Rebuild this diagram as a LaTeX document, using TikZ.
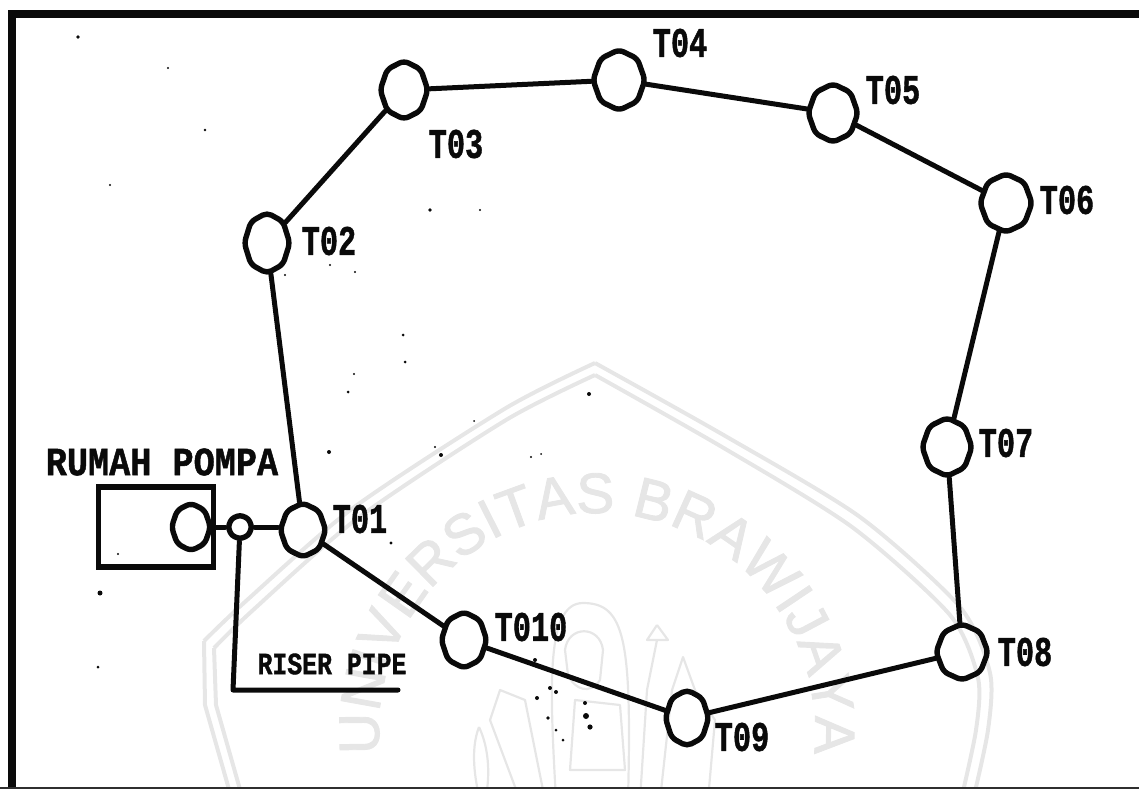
\documentclass[tikz,border=0pt]{standalone}
\usepackage{fontspec}
\setmainfont{Liberation Mono}[BoldFeatures={FakeBold=1.3}]
\newfontfamily\wmfont{Liberation Sans}[FakeBold=1.6]
\usetikzlibrary{shapes.geometric,decorations.text}
\definecolor{wm}{HTML}{E6E6E6}
\definecolor{ink}{HTML}{0A0A0A}
\tikzset{
  oct/.style 2 args={regular polygon,regular polygon sides=8,shape border rotate=22.5,
    inner sep=0pt,minimum size=#2*2.164pt,transform shape,xscale=#1/#2,
    draw=ink,line width=5.4pt,rounded corners=5pt,fill=none},
  pipe/.style={draw=ink,line width=5pt,line cap=round,line join=round},
  lab/.style={font=\bfseries\fontsize{42}{42}\selectfont,text=ink,inner sep=0pt,transform shape,xscale=0.72},
  labB/.style={font=\bfseries\fontsize{40}{40}\selectfont,text=ink,inner sep=0pt,transform shape,xscale=0.88},
  labC/.style={font=\bfseries\fontsize{31}{31}\selectfont,text=ink,inner sep=0pt,transform shape,xscale=0.80},
  wmline/.style={draw=wm,line width=2.2pt,line join=round},
  wmedge/.style={draw=wm,line width=4pt,line join=round},
  speck/.style={fill=ink,draw=none}
}
\begin{document}
\begin{tikzpicture}[x=1pt,y=-1pt]
\useasboundingbox (0,0) rectangle (1139,789);
% watermark
\begin{scope}
\clip (0,0) rectangle (1139,787);
\draw[wmedge] plot[smooth,tension=0.45] coordinates {(595,363) (727,437) (860,517) (960,607) (990,673) (988,730) (973,800)};
\draw[wmedge] plot[smooth,tension=0.45] coordinates {(595,375) (722,447) (852,527) (950,615) (978,678) (976,730) (961,800)};
\draw[wmedge] plot[smooth,tension=0.45] coordinates {(595,363) (506,408) (353,508) (246,601) (204,641)};
\draw[wmedge] plot[smooth,tension=0.45] coordinates {(595,375) (506,420) (358,518) (252,611) (214,648)};
\draw[wmedge] (204,641) -- (205,705) -- (232,800);
\draw[wmedge] (214,648) -- (216,705) -- (243,800);
% emblem
\draw[wmline] (556,800) .. controls (550,690) and (545,603) .. (583,603) .. controls (625,603) and (632,640) .. (628,800);
\draw[wmline] (565,650) .. controls (568,625) and (600,625) .. (603,650) -- (600,680) .. controls (590,695) and (575,690) .. (568,675) -- cycle;
\draw[wmline] (545,800) -- (525,700) -- (500,690) -- (490,720) -- (520,800);
\draw[wmline] (479,727) .. controls (470,750) and (475,780) .. (480,800) (479,727) .. controls (490,750) and (490,780) .. (485,800);
\draw[wmline] (657,625) -- (647,640) -- (668,640) -- (657,625) (657,640) -- (647,690) -- (640,800);
\draw[wmline] (660,800) -- (672,690) -- (683,657) -- (695,690) -- (715,720) -- (708,800);
\draw[wmline] (575,700) -- (620,705) -- (625,770) -- (570,770) -- cycle;
\begin{scope}[shift={(597,731)},y=1pt]
\path[decorate,decoration={text along path,text align={fit to path},
   text={|\wmfont\fontsize{57}{57}\selectfont\color{wm}|UNIVERSITAS BRAWIJAYA}}]
   (186:218) arc[start angle=186,end angle=-6,radius=218];
\end{scope}
\end{scope}
% frame
\fill[ink] (8,10) rectangle (1139,18);
\fill[ink] (8,10) rectangle (16,789);
\fill[ink!85] (0,787) rectangle (1139,789);
% specks
\foreach \x/\y/\r in {78/37/1.8,168/68/1.2,205/130/1.3,110/185/1.2,430/210/1.8,480/210/1.2,285/275/1.2,330/265/1.2,355/272/1.2,403/335/1.5,405/362/1.5,354/374/1.2,348/392/1.5,329/452/2,435/447/1.2,441/455/2,474/421/1,589/394/2,531/457/1.2,541/454/1,391/543/1.7,100/593/2.5,98/667/1.5,118/554/1.1,550/688/2,556/692/2,537/698/2,585/703/2,586/716/3,590/727/2.6,548/718/1.8,556/730/1.5,563/740/1.5,535/660/2}{
  \fill[speck] (\x,\y) circle[radius=\r];
}
% nodes
\node[draw=ink,line width=5.4pt,minimum width=115pt,minimum height=80pt,inner sep=0pt] (house) at (156,527) {};
\node[oct={18}{22}] (pump) at (191,527) {};
\node[oct={11}{11},rounded corners=3pt] (valve) at (240,527) {};
\node[oct={21}{25}] (t1) at (303,530) {};
\node[oct={21}{28}] (t2) at (267,243) {};
\node[oct={22}{27}] (t3) at (404,90) {};
\node[oct={24}{28}] (t4) at (619,80) {};
\node[oct={23}{27}] (t5) at (833,113) {};
\node[oct={24}{27}] (t6) at (1006,203) {};
\node[oct={23}{27}] (t7) at (947,447) {};
\node[oct={24}{26}] (t8) at (962,652) {};
\node[oct={20}{26}] (t9) at (687,718) {};
\node[oct={21}{26}] (t10) at (464,640) {};
\coordinate (riserA) at (233,690);
\coordinate (riserB) at (398,690);
% connectors
\draw[pipe] (pump) -- (valve);
\draw[pipe] (valve) -- (valve -| t1.west);
\draw[pipe] (t1) -- (t2);
\draw[pipe] (t2) -- (t3);
\draw[pipe] (t3) -- (t4);
\draw[pipe] (t4) -- (t5);
\draw[pipe] (t5) -- (t6);
\draw[pipe] (t6) -- (t7);
\draw[pipe] (t7) -- (t8);
\draw[pipe] (t8) -- (t9);
\draw[pipe] (t9) -- (t10);
\draw[pipe] (t10) -- (t1);
\draw[pipe] (valve) -- (riserA) -- (riserB);
% labels
\node[lab] (l1) at (360,519) {T01};
\node[lab] (l2) at (329,241) {T02};
\node[lab] (l3) at (456,144) {T03};
\node[lab] (l4) at (680,43) {T04};
\node[lab] (l5) at (893,90) {T05};
\node[lab] (l6) at (1067,200) {T06};
\node[lab] (l7) at (1006,443) {T07};
\node[lab] (l8) at (1025,652) {T08};
\node[lab] (l9) at (742,737) {T09};
\node[lab] (l10) at (531,627) {T010};
\node[labB] (rp) at (162,462) {RUMAH POMPA};
\node[labC] (rs) at (332,664) {RISER PIPE};
\end{tikzpicture}
\end{document}
